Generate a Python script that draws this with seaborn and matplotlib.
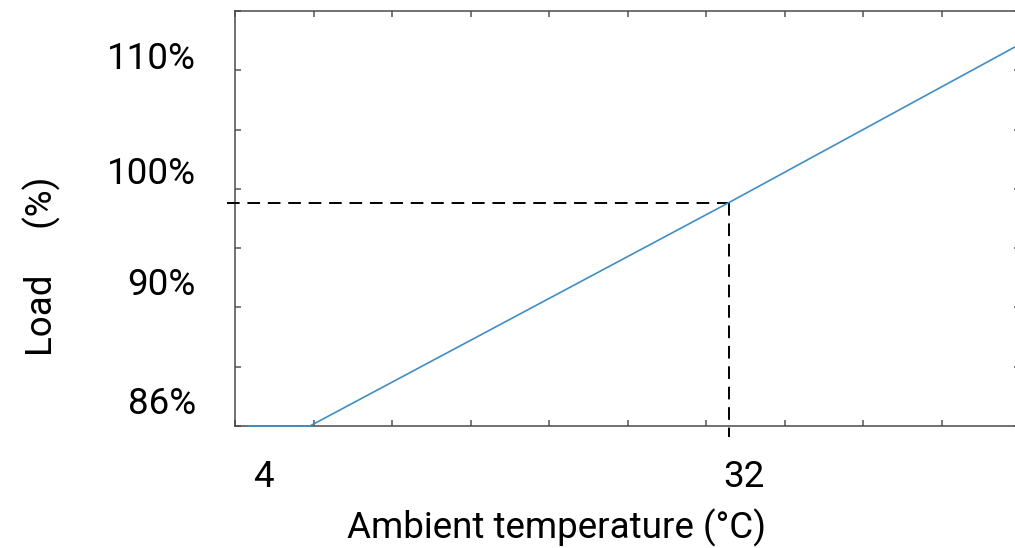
import numpy as np
import pandas as pd
import matplotlib
matplotlib.use("Agg")
import matplotlib.pyplot as plt
import seaborn as sns
from matplotlib.transforms import ScaledTranslation

# ---- data ----
temps = [4.0, 7.6, 32.0, 48.65]          # ambient temperature (°C)
loads = [86.0, 86.0, 100.0, 109.75]      # load (%)
ref_temp = 32.0
ref_load = 100.0

xtick_values = [4, 32]
xtick_labels = ["4", "32"]
ytick_values = [109.25, 102.04, 95.09, 87.63]
ytick_labels = ["110%", "100%", "90%", "86%"]

x_label = "Ambient temperature (°C)"
y_label = "Load     (%)"

# ---- style ----
sns.set_theme(style="white")
plt.rcParams['font.family'] = ['Roboto', 'DejaVu Sans']
FS = 26.5

fig = plt.figure(figsize=(10.15, 5.48), dpi=100)
ax = fig.add_axes([235 / 1015, 122 / 548, 785 / 1015, 415 / 548])

df = pd.DataFrame({"temp": temps, "load": loads})
sns.lineplot(data=df, x="temp", y="load", ax=ax, color="#3f8ec6",
             linewidth=1.2, sort=False, zorder=4, clip_on=False)

xmin, xmax = 3.243, 48.94
ymin, ymax = 86.0, 112.0
ax.set_xlim(xmin, xmax)
ax.set_ylim(ymin, ymax)

# reference dashed lines (extend slightly outside axes)
dash = (0, (6.5, 4))
ax.plot([xmin - 0.47, ref_temp], [ref_load, ref_load], color="black",
        lw=1.4, ls=dash, clip_on=False, zorder=3)
ax.plot([ref_temp, ref_temp], [ref_load, ymin - 0.69], color="black",
        lw=1.4, ls=dash, clip_on=False, zorder=3)

# spines
for s in ax.spines.values():
    s.set_color("#4a4a4a")
    s.set_linewidth(1.1)

# major ticks: labels only
ax.set_xticks(xtick_values)
ax.set_xticklabels(xtick_labels)
ax.set_yticks(ytick_values)
ax.set_yticklabels(ytick_labels)
ax.tick_params(axis="x", which="major", length=0, pad=24, labelsize=FS,
               labelcolor="black")
ax.tick_params(axis="y", which="major", length=0, pad=28, labelsize=FS,
               labelcolor="black")
for lab in ax.get_xticklabels():
    lab.set_transform(lab.get_transform() + ScaledTranslation(0.15, 0, fig.dpi_scale_trans))

# minor tick marks
ax.set_xticks(np.linspace(xmin, xmax, 11), minor=True)
ax.set_yticks(np.linspace(ymin, ymax, 8), minor=True)
ax.tick_params(which="minor", direction="in", length=4, width=1.1,
               color="#555555", bottom=True, top=True, left=True, right=True)

ax.set_xlabel(x_label, fontsize=FS, color="black")
ax.set_ylabel(y_label, fontsize=FS, color="black")
ax.xaxis.set_label_coords((557 - 235) / 785, (426 - 528) / 415)
ax.xaxis.label.set_va("center")
ax.yaxis.set_label_coords((42 - 235) / 785, (426 - 266) / 415)
ax.yaxis.label.set_va("center")

fig.savefig("out.png", dpi=100)
